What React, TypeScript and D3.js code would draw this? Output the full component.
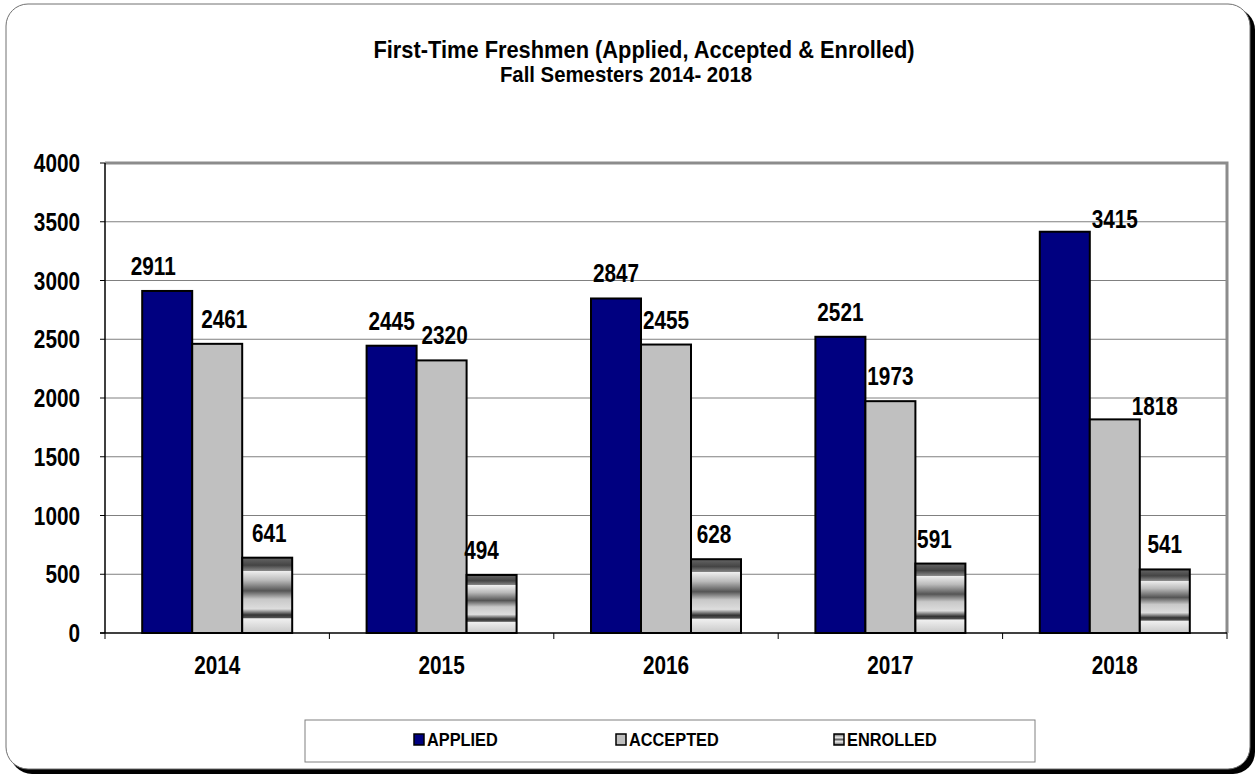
import { useEffect, useRef } from "react";
import * as d3 from "d3";

const years = ["2014", "2015", "2016", "2017", "2018"];
const series = ["APPLIED", "ACCEPTED", "ENROLLED"];
const applied = [2911, 2445, 2847, 2521, 3415];
const accepted = [2461, 2320, 2455, 1973, 1818];
const enrolled = [641, 494, 628, 591, 541];
const yTicks = [0, 500, 1000, 1500, 2000, 2500, 3000, 3500, 4000];

// hand-moved data labels in the original (px nudges, per series)
const labelDx = [
  [-14, 0, 0, 0, 50],
  [7, 3, 0, 0, 40],
  [2, -10, -2, -6, 0],
];
const labelDy = [
  [0, 0, 0, 0, 12],
  [0, 0, 0, 0, 12],
  [0, 0, 0, 0, 0],
];

const W = 1259;
const H = 777;
const FONT = "'Liberation Sans', Arial, sans-serif";
const SX = 0.83; // squeeze to mimic Arial Narrow

type Sel = d3.Selection<SVGGElement | SVGSVGElement, unknown, null, undefined>;

function narrowText(
  parent: Sel,
  x: number,
  y: number,
  str: string,
  size: number,
  anchor = "middle",
  sx = SX
) {
  return parent
    .append("text")
    .attr("transform", `translate(${x},${y}) scale(${sx},1)`)
    .attr("text-anchor", anchor)
    .attr("font-family", FONT)
    .attr("font-weight", "bold")
    .attr("font-size", size)
    .text(str);
}

export default function App() {
  const svgRef = useRef<SVGSVGElement>(null);

  useEffect(() => {
    if (!svgRef.current) return;
    const svg = d3.select(svgRef.current);
    svg.selectAll("*").remove();

    const left = 105;
    const right = 1227;
    const top = 163;
    const bottom = 633;

    const defs = svg.append("defs");
    const grad = defs
      .append("linearGradient")
      .attr("id", "enrolledFill")
      .attr("x1", 0)
      .attr("y1", 0)
      .attr("x2", 0)
      .attr("y2", 1);
    const stops: [number, string][] = [
      [0, "#666"],
      [0.1, "#444"],
      [0.175, "#888"],
      [0.18, "#eee"],
      [0.3, "#bbb"],
      [0.44, "#555"],
      [0.55, "#c8c8c8"],
      [0.68, "#ddd"],
      [0.76, "#333"],
      [0.8, "#555"],
      [0.81, "#f0f0f0"],
      [1, "#c8c8c8"],
    ];
    stops.forEach(([o, c]) => grad.append("stop").attr("offset", o).attr("stop-color", c));

    const legGrad = defs
      .append("linearGradient")
      .attr("id", "legFill")
      .attr("x1", 0)
      .attr("y1", 0)
      .attr("x2", 0)
      .attr("y2", 1);
    [[0, "#555"], [0.3, "#eee"], [0.5, "#666"], [0.7, "#eee"], [1, "#555"]].forEach(([o, c]) =>
      legGrad.append("stop").attr("offset", o as number).attr("stop-color", c as string)
    );

    // frame with shadow
    svg
      .append("rect")
      .attr("x", 10)
      .attr("y", 8)
      .attr("width", 1245)
      .attr("height", 766)
      .attr("rx", 22)
      .attr("fill", "#000");
    svg
      .append("rect")
      .attr("x", 6)
      .attr("y", 4)
      .attr("width", 1244)
      .attr("height", 765)
      .attr("rx", 22)
      .attr("fill", "#fff")
      .attr("stroke", "#707070")
      .attr("stroke-width", 1);

    const root = svg as unknown as Sel;

    // title
    narrowText(root, 644, 58, "First-Time Freshmen (Applied, Accepted & Enrolled)", 23, "middle", 0.95);
    narrowText(root, 626, 82, "Fall Semesters 2014- 2018", 23, "middle", 0.885);

    const y = d3.scaleLinear().domain([0, 4000]).range([bottom, top]);
    const x0 = d3.scaleBand<string>().domain(years).range([left, right]).padding(0);
    const x1 = d3.scaleBand<string>().domain(series).range([-75, 75]).padding(0);

    const g = svg.append("g");
    const gs = g as unknown as Sel;

    // gridlines
    g.selectAll("line.grid")
      .data(yTicks.filter((t) => t > 0 && t < 4000))
      .join("line")
      .attr("x1", left)
      .attr("x2", right)
      .attr("y1", (d) => y(d))
      .attr("y2", (d) => y(d))
      .attr("stroke", "#808080")
      .attr("stroke-width", 1);

    // plot border top/right
    g.append("path")
      .attr("d", `M${left},${top} H${right} V${bottom}`)
      .attr("fill", "none")
      .attr("stroke", "#8c8c8c")
      .attr("stroke-width", 3);

    const values = [applied, accepted, enrolled];
    const fills = ["#000080", "#c0c0c0", "url(#enrolledFill)"];

    series.forEach((s, si) => {
      g.selectAll(`rect.s${si}`)
        .data(values[si])
        .join("rect")
        .attr("x", (_d, i) => x0(years[i])! + x0.bandwidth() / 2 + x1(s)!)
        .attr("y", (d) => y(d))
        .attr("width", x1.bandwidth())
        .attr("height", (d) => bottom - y(d))
        .attr("fill", fills[si])
        .attr("stroke", "#000")
        .attr("stroke-width", 2);
    });

    series.forEach((s, si) => {
      values[si].forEach((v, i) => {
        const cx = x0(years[i])! + x0.bandwidth() / 2 + x1(s)! + x1.bandwidth() / 2;
        narrowText(gs, cx + labelDx[si][i], y(v) - 16 + labelDy[si][i], String(v), 25);
      });
    });

    // axes
    g.append("line")
      .attr("x1", left)
      .attr("x2", left)
      .attr("y1", top)
      .attr("y2", bottom)
      .attr("stroke", "#000")
      .attr("stroke-width", 1.5);
    g.append("line")
      .attr("x1", left - 5)
      .attr("x2", right)
      .attr("y1", bottom)
      .attr("y2", bottom)
      .attr("stroke", "#000")
      .attr("stroke-width", 1.5);

    g.selectAll("line.ytick")
      .data(yTicks)
      .join("line")
      .attr("x1", left - 5)
      .attr("x2", left)
      .attr("y1", (d) => y(d))
      .attr("y2", (d) => y(d))
      .attr("stroke", "#000");
    yTicks.forEach((t) => narrowText(gs, 80, y(t) + 9, String(t), 25, "end"));

    const bounds = years.map((yr) => x0(yr)!).concat([right]);
    g.selectAll("line.xtick")
      .data(bounds)
      .join("line")
      .attr("x1", (d) => d)
      .attr("x2", (d) => d)
      .attr("y1", bottom)
      .attr("y2", bottom + 6)
      .attr("stroke", "#000");
    years.forEach((yr) => narrowText(gs, x0(yr)! + x0.bandwidth() / 2, 674, yr, 25));

    // legend
    svg
      .append("rect")
      .attr("x", 305)
      .attr("y", 720)
      .attr("width", 730)
      .attr("height", 42)
      .attr("fill", "#fff")
      .attr("stroke", "#808080")
      .attr("stroke-width", 1);
    const legX = [414, 616, 834];
    const legFills = ["#000080", "#c0c0c0", "url(#legFill)"];
    series.forEach((s, i) => {
      svg
        .append("rect")
        .attr("x", legX[i])
        .attr("y", 734)
        .attr("width", 10)
        .attr("height", 11)
        .attr("fill", legFills[i])
        .attr("stroke", "#000")
        .attr("stroke-width", 1.5);
      narrowText(root, legX[i] + 13, 746, s, 19, "start", 0.86);
    });
  }, []);

  return (
    <svg
      ref={svgRef}
      width={W}
      height={H}
      style={{ position: "absolute", left: 0, top: 0, background: "#fff" }}
    />
  );
}
